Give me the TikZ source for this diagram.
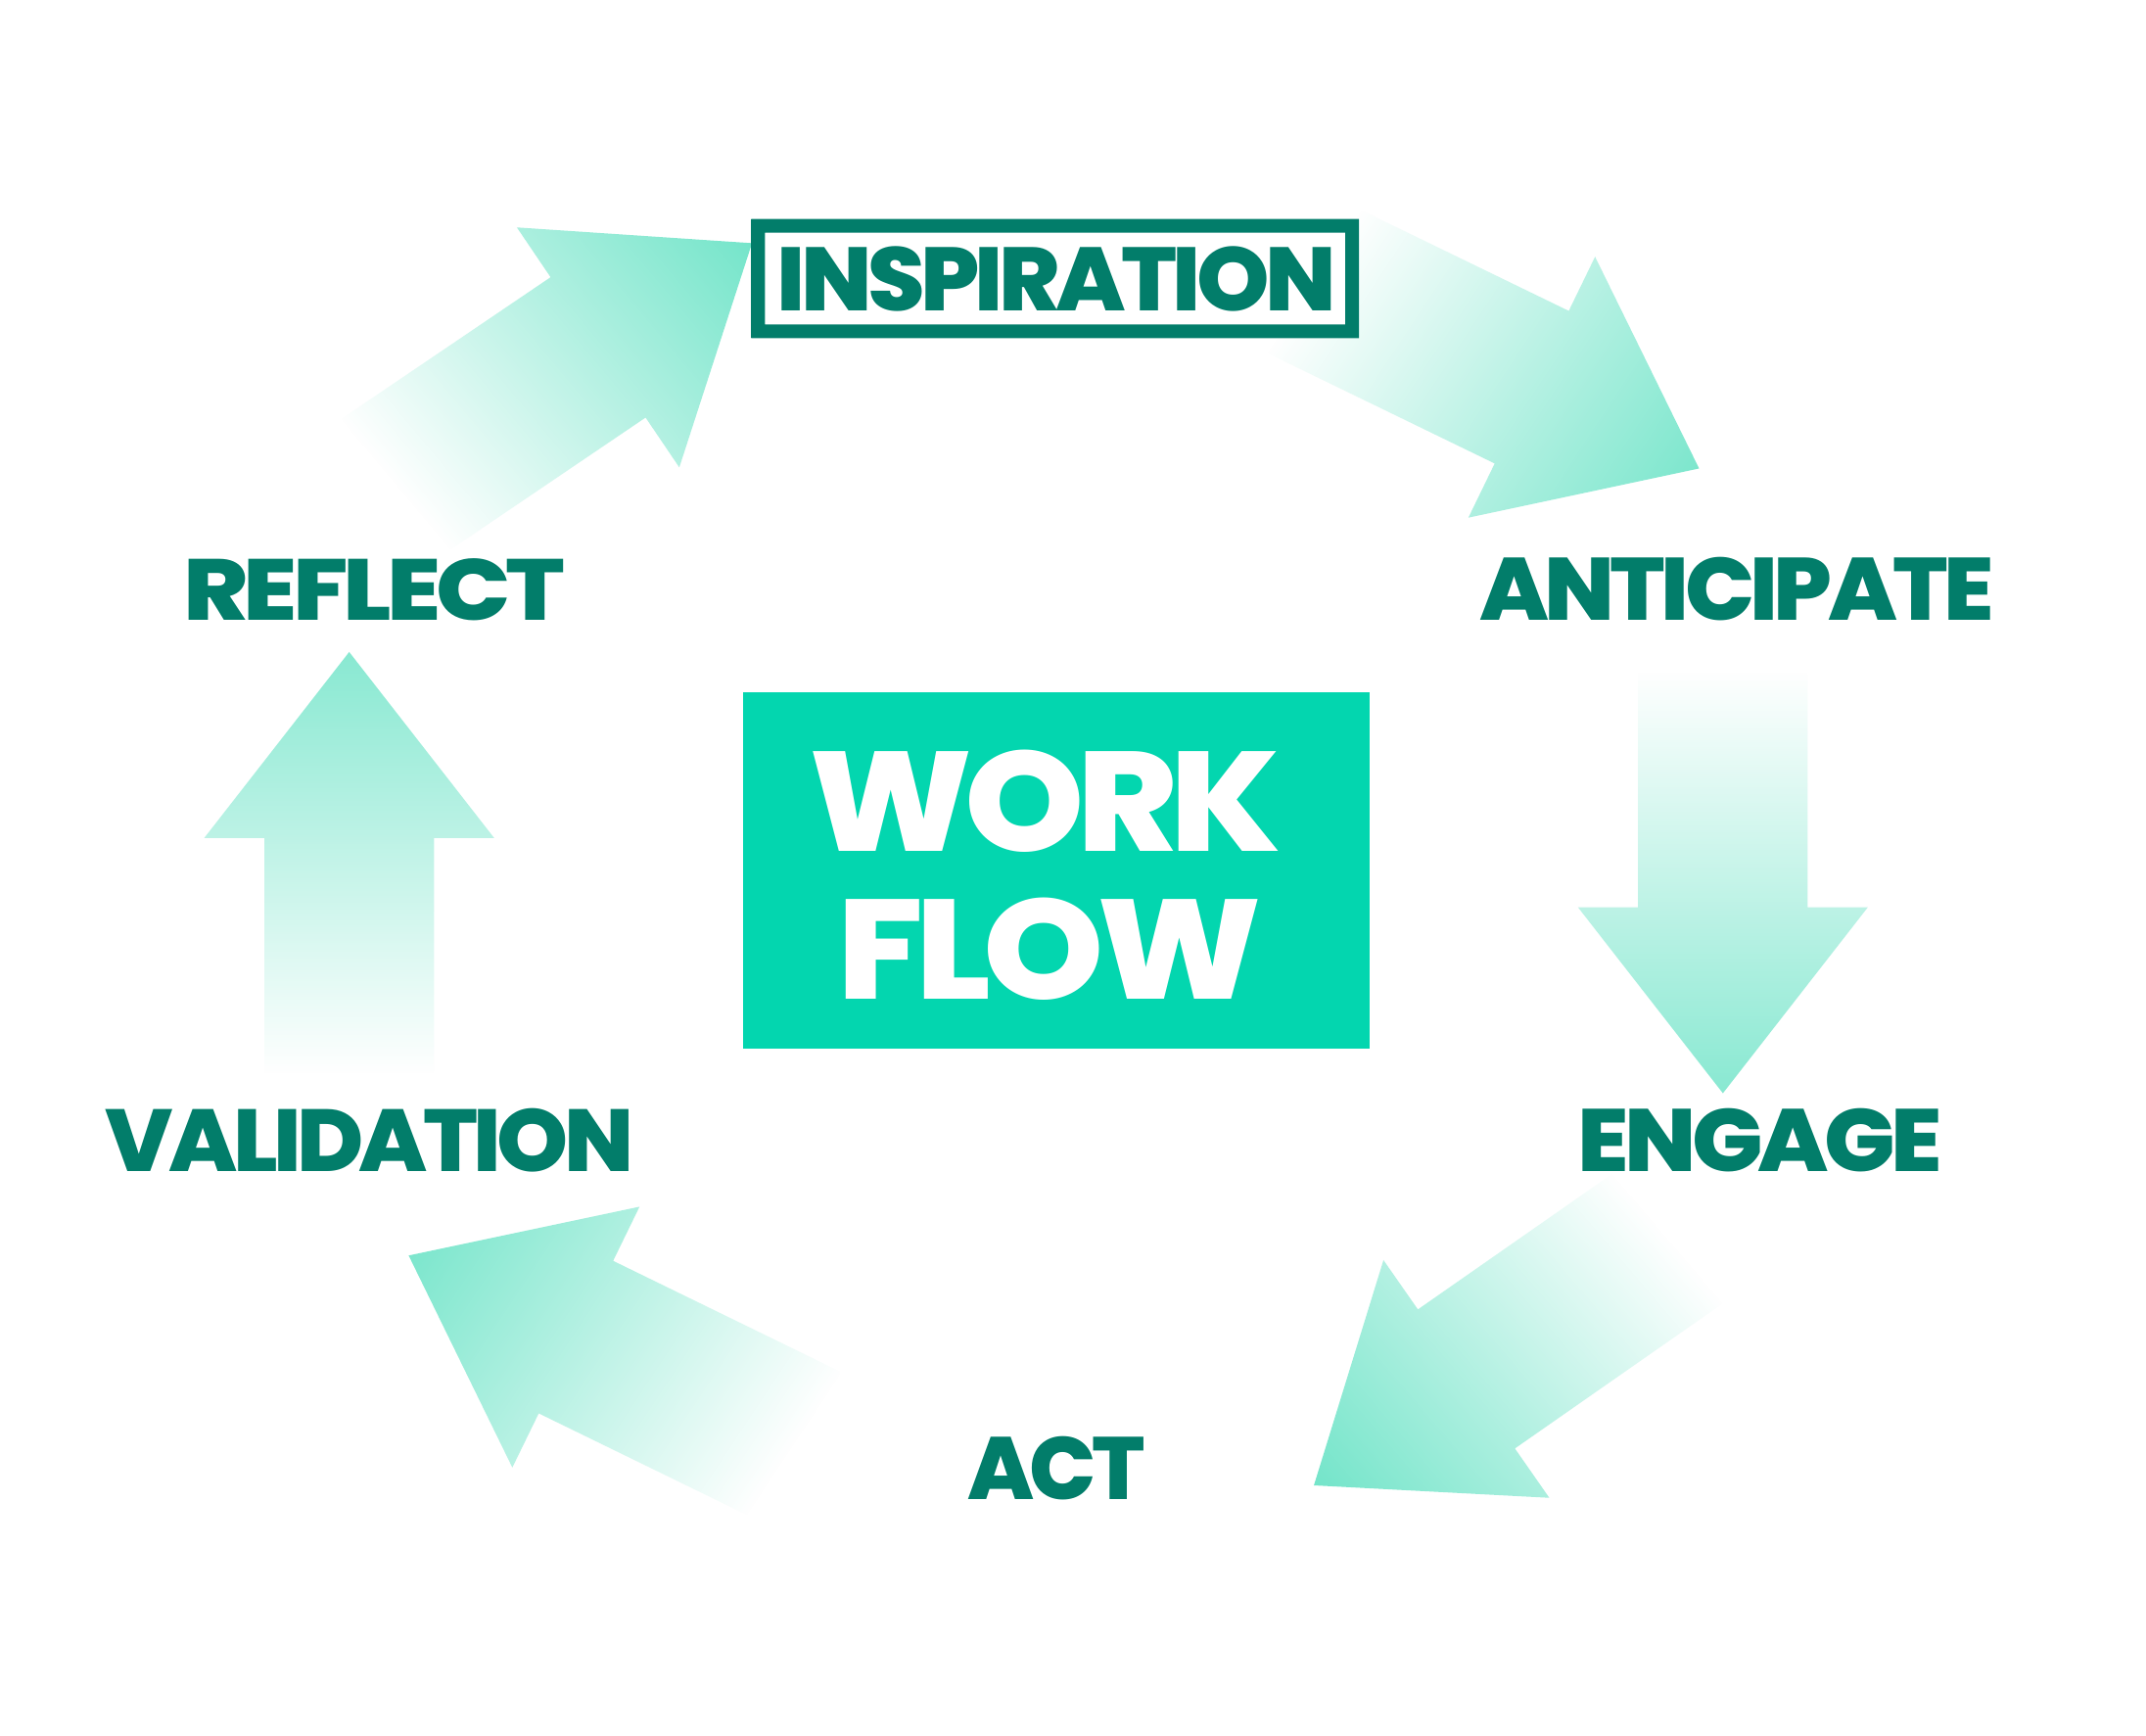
\documentclass[tikz,border=0pt]{standalone}
\usepackage{fontspec}
\usepackage{graphicx}
\setmainfont{Poppins}[BoldFont={Poppins ExtraBold},BoldFeatures={LetterSpace=-5}]
\usetikzlibrary{fadings}
\definecolor{dk}{HTML}{027D6A}
\definecolor{dklt}{HTML}{00A088}
\definecolor{wf}{HTML}{03D6AF}
\definecolor{arr}{HTML}{5FE1C2}
\pgfdeclarehorizontalshading{arrfadeshade}{100bp}{color(0bp)=(black); color(27bp)=(black); color(92bp)=(white); color(100bp)=(white)}
\pgfdeclarefading{arrfade}{\pgfuseshading{arrfadeshade}}
\pgfdeclarehorizontalshading{boxshade}{100bp}{color(0bp)=(dk); color(80bp)=(dk); color(100bp)=(dklt)}
\newcommand\flowarrow[3]{%
  \begin{scope}[shift={(#1,#2)}, rotate=#3]
    \fill[arr, path fading=arrfade, fading angle=#3]
      (0,-62) -- (185,-62) -- (185,-106) -- (321,0) -- (185,106) -- (185,62) -- (0,62) -- cycle;
  \end{scope}}
\tikzset{
  lbl/.style={inner sep=0pt, text=dk, font=\bfseries},
  wtxt/.style={inner sep=0pt, text=white, font=\bfseries}
}
\begin{document}
\begin{tikzpicture}[x=1pt,y=1pt]
\fill[white] (0,0) rectangle (1568,1268);
\useasboundingbox (0,0) rectangle (1568,1268);
% arrows (tail x, tail y, angle)
\flowarrow{255}{471}{90}
\flowarrow{284}{911}{34.1}
\flowarrow{953}{1066}{-25.9}
\flowarrow{1259}{790}{-90}
\flowarrow{1223}{366}{-145.1}
\flowarrow{587}{210}{154}
% inspiration box
\fill[white] (549,1021) rectangle (993,1108);
\shade[shading=boxshade, even odd rule] (549,1021) rectangle (993,1108) (559,1031) rectangle (983,1098);
\node[lbl] (insp) at (772,1064) {\resizebox{408pt}{47pt}{INSPIRATION}};
% work flow box
\node[fill=wf, minimum width=458pt, minimum height=260pt, inner sep=0pt] (wfbox) at (772,632) {};
\node[wtxt] (work) at (763.5,683) {\resizebox{345pt}{74pt}{WORK}};
\node[wtxt] (flow) at (767,575) {\resizebox{310pt}{74pt}{FLOW}};
% labels
\node[lbl] (reflect) at (273.5,837.5) {\resizebox{279pt}{45pt}{REFLECT}};
\node[lbl] (anticipate) at (1269,838) {\resizebox{376pt}{46pt}{ANTICIPATE}};
\node[lbl] (engage) at (1286,435) {\resizebox{266pt}{46pt}{ENGAGE}};
\node[lbl] (act) at (772,195) {\resizebox{130pt}{46pt}{ACT}};
\node[lbl] (validation) at (270,435) {\resizebox{386pt}{46pt}{VALIDATION}};
\end{tikzpicture}
\end{document}
